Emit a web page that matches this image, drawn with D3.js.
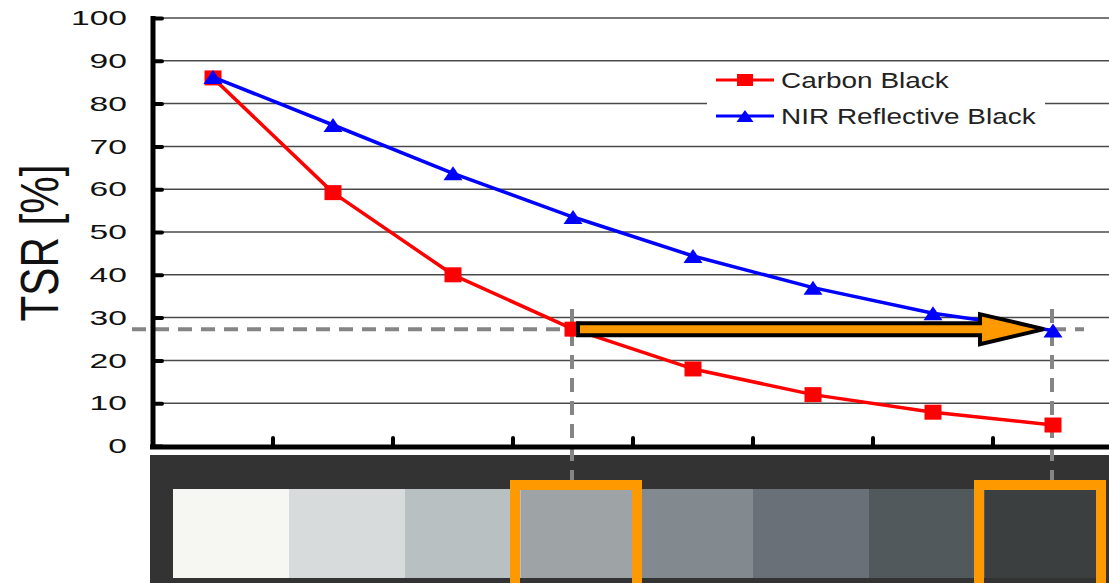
<!DOCTYPE html>
<html>
<head>
<meta charset="utf-8">
<script src="https://cdn.jsdelivr.net/npm/d3@7"></script>
<style>
  body { margin: 0; background: #fff; }
  text { font-family: "Liberation Sans", Arial, sans-serif; }
</style>
</head>
<body>
<div id="chart"></div>
<script>
// values
const samples = [1, 2, 3, 4, 5, 6, 7, 8];
const carbonBlack = [86, 59.2, 40, 27.3, 18, 12, 7.9, 4.9];
const nirBlack = [86.2, 75, 63.7, 53.5, 44.4, 37, 31, 27];
const yTicks = [0, 10, 20, 30, 40, 50, 60, 70, 80, 90, 100];
const swatchColors = ["#f6f7f3", "#d7dbdb", "#b9c0c2", "#9ea4a6", "#828a90", "#6a7077", "#52595c", "#3c3f40"];
const targetTSR = 27.3;
const highlighted = [3, 7];

var width = 1109;
var height = 583;

var svg = d3.select('#chart')
  .append('svg')
  .attr('width', width)
  .attr('height', height);

const x = d3.scaleBand()
  .domain(d3.range(samples.length))
  .range([153, 1113])
  .padding(0);

const cx = i => x(i) + x.bandwidth() / 2;

const y = d3.scaleLinear()
  .domain([0, 100])
  .range([446, 18]);

// stretch text horizontally, the original picture is wide
function stretch(sel, k) {
  sel.each(function() {
    const w = this.getComputedTextLength();
    d3.select(this).attr("textLength", w * k).attr("lengthAdjust", "spacingAndGlyphs");
  });
}

// wide square / triangle markers
const squarePath = (w, h) => `M${-w / 2},${-h / 2}h${w}v${h}h${-w}Z`;
const trianglePath = (w, h) => `M0,${-h / 2}L${w / 2},${h / 2}L${-w / 2},${h / 2}Z`;

// gridlines
svg.append("g")
  .selectAll("line")
  .data(yTicks.filter(d => d > 0))
  .join("line")
    .attr("x1", 153)
    .attr("x2", width)
    .attr("y1", d => y(d))
    .attr("y2", d => y(d))
    .attr("stroke", "#4a4a4a")
    .attr("stroke-width", 1.5);

// legend background (breaks the gridline)
svg.append("rect")
  .attr("x", 707).attr("y", 64)
  .attr("width", 338).attr("height", 68)
  .attr("fill", "#fff");

// bottom swatch panel
svg.append("rect")
  .attr("x", 150).attr("y", 455)
  .attr("width", width - 150).attr("height", height - 455)
  .attr("fill", "#333333");

const sw = d3.scaleBand()
  .domain(d3.range(samples.length))
  .range([173, 1101]);

svg.append("g")
  .selectAll("rect")
  .data(swatchColors)
  .join("rect")
    .attr("x", (d, i) => sw(i))
    .attr("y", 489)
    .attr("width", sw.bandwidth() + 0.5)
    .attr("height", 89)
    .attr("fill", d => d);

// dashed guide lines
const guides = svg.append("g")
  .attr("stroke", "#858585")
  .attr("stroke-width", 4)
  .attr("stroke-dasharray", "14,9");

guides.append("line")
  .attr("x1", 132).attr("x2", 1084)
  .attr("y1", y(targetTSR)).attr("y2", y(targetTSR));

guides.selectAll(".v")
  .data(highlighted)
  .join("line")
    .attr("class", "v")
    .attr("x1", d => cx(d) - 1).attr("x2", d => cx(d) - 1)
    .attr("y1", 309).attr("y2", 488);

// orange highlight boxes
svg.append("g")
  .selectAll("rect")
  .data(highlighted)
  .join("rect")
    .attr("x", d => sw(d) - 6)
    .attr("y", 485)
    .attr("width", sw.bandwidth() + 6)
    .attr("height", 110)
    .attr("fill", "none")
    .attr("stroke", "#ff9900")
    .attr("stroke-width", 10);

// axes
svg.append("line")
  .attr("x1", 150).attr("x2", width)
  .attr("y1", y(0) + 1).attr("y2", y(0) + 1)
  .attr("stroke", "#000").attr("stroke-width", 5);

svg.append("line")
  .attr("x1", 153).attr("x2", 153)
  .attr("y1", y(100) - 2).attr("y2", y(0) + 3)
  .attr("stroke", "#000").attr("stroke-width", 5);

svg.append("g")
  .selectAll("line")
  .data(d3.range(1, samples.length))
  .join("line")
    .attr("x1", d => x(d)).attr("x2", d => x(d))
    .attr("y1", y(0) - 8).attr("y2", y(0))
    .attr("stroke", "#000").attr("stroke-width", 4)
    .attr("stroke-linecap", "round");

function yAxis(g) {
  g.attr("transform", `translate(153, 0)`)
    .call(d3.axisLeft(y).tickValues(yTicks).tickSizeInner(-9).tickSizeOuter(0).tickPadding(26))
    .attr("font-size", "21px")
    .attr("font-family", "Liberation Sans, Arial, sans-serif");
  g.select(".domain").remove();
  g.selectAll(".tick line").attr("stroke", "#000").attr("stroke-width", 4).attr("stroke-linecap", "round");
  g.selectAll(".tick text").attr("fill", "#111").call(stretch, 1.6);
}
svg.append("g").call(yAxis);

svg.append("text")
  .attr("transform", "translate(58, 243) rotate(-90)")
  .attr("text-anchor", "middle")
  .attr("font-size", "54px")
  .attr("textLength", 157)
  .attr("lengthAdjust", "spacingAndGlyphs")
  .attr("fill", "#111")
  .text("TSR [%]");

// series
const line = d3.line()
  .x((d, i) => cx(i))
  .y(d => y(d));

svg.append("path")
  .datum(carbonBlack)
  .attr("d", line)
  .attr("fill", "none")
  .attr("stroke", "#ff0000")
  .attr("stroke-width", 3.5)
  .attr("stroke-linejoin", "round");

svg.append("g")
  .selectAll("path")
  .data(carbonBlack)
  .join("path")
    .attr("transform", (d, i) => `translate(${cx(i)},${y(d)})`)
    .attr("d", squarePath(17, 15))
    .attr("fill", "#ff0000");

svg.append("path")
  .datum(nirBlack)
  .attr("d", line)
  .attr("fill", "none")
  .attr("stroke", "#0000ff")
  .attr("stroke-width", 3.5)
  .attr("stroke-linejoin", "round");

svg.append("g")
  .selectAll("path")
  .data(nirBlack)
  .join("path")
    .attr("transform", (d, i) => `translate(${cx(i)},${y(d)})`)
    .attr("d", trianglePath(19, 14))
    .attr("fill", "#0000ff");

// arrow
const ax0 = cx(highlighted[0]) + 5;
const ax1 = cx(highlighted[1]) - 9;
const ay = y(targetTSR);
const arrowPts = [
  [ax0, ay - 6], [ax1 - 64, ay - 6], [ax1 - 64, ay - 15], [ax1, ay],
  [ax1 - 64, ay + 15], [ax1 - 64, ay + 6], [ax0, ay + 6]
];
svg.append("path")
  .attr("d", d3.line()(arrowPts) + "Z")
  .attr("fill", "#ff9900")
  .attr("stroke", "#000")
  .attr("stroke-width", 4)
  .attr("stroke-linejoin", "miter");

// legend
const legend = svg.append("g").attr("transform", "translate(716, 0)");
const legendItems = [
  { name: "Carbon Black", color: "#ff0000", shape: "square", y: 80 },
  { name: "NIR Reflective Black", color: "#0000ff", shape: "triangle", y: 116 }
];
legendItems.forEach(it => {
  legend.append("line")
    .attr("x1", 0).attr("x2", 58)
    .attr("y1", it.y).attr("y2", it.y)
    .attr("stroke", it.color).attr("stroke-width", 3);
  legend.append("path")
    .attr("transform", `translate(29,${it.y})`)
    .attr("d", it.shape === "square" ? squarePath(16, 12) : trianglePath(17, 12))
    .attr("fill", it.color);
  legend.append("text")
    .attr("x", 65).attr("y", it.y)
    .attr("dy", "0.35em")
    .attr("font-size", "22px")
    .attr("fill", "#222")
    .text(it.name)
    .call(stretch, 1.27);
});
</script>
</body>
</html>
